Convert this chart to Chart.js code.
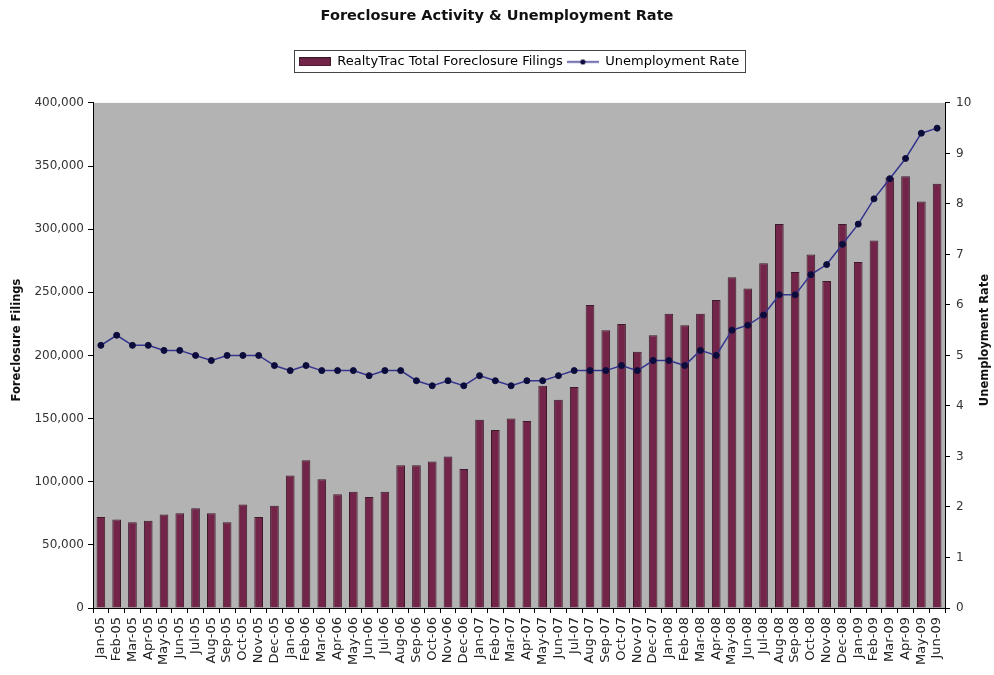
<!DOCTYPE html>
<html>
<head>
<meta charset="utf-8">
<title>Foreclosure Activity & Unemployment Rate</title>
<script src="https://cdn.jsdelivr.net/npm/chart.js@4.4.1/dist/chart.umd.min.js"></script>
<style>
  html, body { margin: 0; padding: 0; background: #fff; }
  #wrap { width: 994px; height: 675px; }
</style>
</head>
<body>
<div id="wrap"><canvas id="chart" width="994" height="675"></canvas></div>
<script>
const months = [
    "Jan-05", "Feb-05", "Mar-05", "Apr-05", "May-05", "Jun-05", "Jul-05", "Aug-05", "Sep-05", "Oct-05", "Nov-05", "Dec-05",
    "Jan-06", "Feb-06", "Mar-06", "Apr-06", "May-06", "Jun-06", "Jul-06", "Aug-06", "Sep-06", "Oct-06", "Nov-06", "Dec-06",
    "Jan-07", "Feb-07", "Mar-07", "Apr-07", "May-07", "Jun-07", "Jul-07", "Aug-07", "Sep-07", "Oct-07", "Nov-07", "Dec-07",
    "Jan-08", "Feb-08", "Mar-08", "Apr-08", "May-08", "Jun-08", "Jul-08", "Aug-08", "Sep-08", "Oct-08", "Nov-08", "Dec-08",
    "Jan-09", "Feb-09", "Mar-09", "Apr-09", "May-09", "Jun-09"
];

const filings = [
    72000, 70000, 68000, 69000, 74000, 75000, 79000, 75000, 68000, 82000, 72000, 81000,
    105000, 117000, 102000, 90000, 92000, 88000, 92000, 113000, 113000, 116000, 120000, 110000,
    149000, 141000, 150000, 148000, 176000, 165000, 175000, 240000, 220000, 225000, 203000, 216000,
    233000, 224000, 233000, 244000, 262000, 253000, 273000, 304000, 266000, 280000, 259000, 304000,
    274000, 291000, 341000, 342000, 322000, 336000
];

const unemployment = [
    5.2, 5.4, 5.2, 5.2, 5.1, 5.1, 5.0, 4.9, 5.0, 5.0, 5.0, 4.8,
    4.7, 4.8, 4.7, 4.7, 4.7, 4.6, 4.7, 4.7, 4.5, 4.4, 4.5, 4.4,
    4.6, 4.5, 4.4, 4.5, 4.5, 4.6, 4.7, 4.7, 4.7, 4.8, 4.7, 4.9,
    4.9, 4.8, 5.1, 5.0, 5.5, 5.6, 5.8, 6.2, 6.2, 6.6, 6.8, 7.2,
    7.6, 8.1, 8.5, 8.9, 9.4, 9.5
];

const BAR_FILL = "#722449";
const BAR_EDGE = "#3c1a2a";
const LINE_COLOR = "#34348f";
const MARKER_COLOR = "#0c0c3c";
const PLOT_BG = "#b3b3b3";
const FONT = "'DejaVu Sans', sans-serif";

function makeSwatch(kind) {
    const c = document.createElement("canvas");
    c.width = 32;
    c.height = 9;
    const g = c.getContext("2d");
    if (kind === "bar") {
        g.fillStyle = BAR_FILL;
        g.fillRect(0, 0, 32, 9);
        g.strokeStyle = BAR_EDGE;
        g.strokeRect(0.5, 0.5, 31, 8);
    } else {
        g.strokeStyle = LINE_COLOR;
        g.lineWidth = 1.5;
        g.beginPath();
        g.moveTo(0, 4.5);
        g.lineTo(32, 4.5);
        g.stroke();
        g.fillStyle = MARKER_COLOR;
        g.beginPath();
        g.arc(16, 4.5, 2.6, 0, Math.PI * 2);
        g.fill();
    }
    return c;
}

const barSwatch = makeSwatch("bar");
const lineSwatch = makeSwatch("line");

// grey plot area like the Excel original
const plotBackground = {
    id: "plotBackground",
    beforeDraw(chart) {
        const { ctx, chartArea: a } = chart;
        ctx.save();
        ctx.fillStyle = PLOT_BG;
        ctx.fillRect(a.left, a.top, a.right - a.left, a.bottom - a.top);
        ctx.restore();
    }
};

// push the plot down below the legend
const legendSpacer = {
    id: "legendSpacer",
    beforeInit(chart) {
        if (!chart.legend) return;
        const origFit = chart.legend.fit;
        chart.legend.fit = function () {
            origFit.bind(chart.legend)();
            this.height += 24.5;
        };
    }
};

// frame round the legend + both axis titles reading bottom to top
const decorations = {
    id: "decorations",
    afterDraw(chart) {
        const ctx = chart.ctx;
        const boxes = chart.legend && chart.legend.legendHitBoxes;
        ctx.save();
        if (boxes && boxes.length) {
            const left = Math.min(...boxes.map(b => b.left)) - 5;
            const right = Math.max(...boxes.map(b => b.left + b.width)) + 6;
            const top = boxes[0].top - 5;
            const bottom = boxes[0].top + boxes[0].height + 4;
            ctx.strokeStyle = "#444";
            ctx.lineWidth = 1;
            ctx.strokeRect(Math.round(left) + 0.5, Math.round(top) + 0.5, Math.round(right - left), Math.round(bottom - top));
        }
        ctx.fillStyle = "#111";
        ctx.font = "bold 11.5px " + FONT;
        ctx.textAlign = "center";
        ctx.textBaseline = "middle";
        [[17, "Foreclosure Filings"], [985, "Unemployment Rate"]].forEach(([x, text]) => {
            ctx.save();
            ctx.translate(x, 340);
            ctx.rotate(-Math.PI / 2);
            ctx.fillText(text, 0, 0);
            ctx.restore();
        });
        ctx.restore();
    }
};

const tickFont = { family: FONT, size: 12 };

new Chart(document.getElementById("chart"), {
    type: "bar",
    data: {
        labels: months,
        datasets: [
            {
                type: "bar",
                label: "RealtyTrac Total Foreclosure Filings",
                data: filings,
                yAxisID: "y",
                backgroundColor: BAR_FILL,
                borderColor: BAR_EDGE,
                borderWidth: 1,
                barPercentage: 0.55,
                categoryPercentage: 1,
                order: 1
            },
            {
                type: "line",
                label: "Unemployment Rate",
                data: unemployment,
                yAxisID: "y1",
                borderColor: LINE_COLOR,
                borderWidth: 1.5,
                pointRadius: 3,
                pointBackgroundColor: MARKER_COLOR,
                pointBorderColor: MARKER_COLOR,
                pointBorderWidth: 1,
                tension: 0,
                order: 0
            }
        ]
    },
    options: {
        responsive: false,
        devicePixelRatio: 1,
        animation: false,
        layout: { padding: { top: 0, left: 0, right: 0, bottom: 0 } },
        plugins: {
            title: {
                display: true,
                text: "Foreclosure Activity & Unemployment Rate",
                color: "#111",
                font: { family: FONT, size: 14.5, weight: "bold" },
                padding: { top: 8, bottom: 26 }
            },
            legend: {
                display: true,
                position: "top",
                fullSize: false,
                labels: {
                    usePointStyle: true,
                    pointStyleWidth: 32,
                    padding: 4,
                    color: "#222",
                    font: { family: FONT, size: 13 },
                    generateLabels: () => [
                        { text: "RealtyTrac Total Foreclosure Filings", pointStyle: barSwatch, fillStyle: BAR_FILL, strokeStyle: BAR_EDGE, lineWidth: 0, datasetIndex: 0, hidden: false },
                        { text: "Unemployment Rate", pointStyle: lineSwatch, fillStyle: LINE_COLOR, strokeStyle: LINE_COLOR, lineWidth: 0, datasetIndex: 1, hidden: false }
                    ]
                }
            },
            tooltip: { enabled: false }
        },
        scales: {
            x: {
                grid: { display: true, drawOnChartArea: false, drawTicks: true, tickLength: 5, color: "#000", offset: true },
                border: { display: true, color: "#000", width: 1 },
                ticks: { autoSkip: false, maxRotation: 90, minRotation: 90, padding: 4, color: "#222", font: { family: FONT, size: 13 } },
                afterFit(scale) { scale.height = 67; }
            },
            y: {
                position: "left",
                min: 0,
                max: 400000,
                grid: { display: true, drawOnChartArea: false, drawTicks: true, tickLength: 5, color: "#000" },
                border: { display: true, color: "#000", width: 1 },
                ticks: {
                    stepSize: 50000,
                    padding: 4,
                    color: "#333",
                    font: tickFont,
                    callback: v => v.toLocaleString("en-US")
                },
                afterFit(scale) { scale.width = 93; }
            },
            y1: {
                position: "right",
                min: 0,
                max: 10,
                grid: { display: true, drawOnChartArea: false, drawTicks: true, tickLength: 5, color: "#000" },
                border: { display: true, color: "#000", width: 1 },
                ticks: { stepSize: 1, padding: 6, color: "#333", font: tickFont },
                afterFit(scale) { scale.width = 49; }
            }
        }
    },
    plugins: [plotBackground, legendSpacer, decorations]
});
</script>
</body>
</html>
